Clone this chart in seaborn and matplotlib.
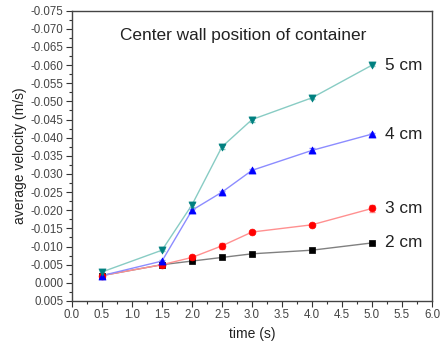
import numpy as np
import pandas as pd
import matplotlib
matplotlib.use("Agg")
import matplotlib.pyplot as plt
from matplotlib.ticker import MultipleLocator, FormatStrFormatter
import seaborn as sns

sns.set_style("ticks")
plt.rcParams["font.family"] = ["Liberation Sans", "DejaVu Sans"]

# time points (s)
time_s = [0.5, 1.5, 2.0, 2.5, 3.0, 4.0, 5.0]

# average velocity (m/s) for each wall distance
v_2cm = [-0.002, -0.005, -0.006, -0.007, -0.008, -0.009, -0.011]
v_3cm = [-0.002, -0.005, -0.007, -0.0102, -0.014, -0.016, -0.0205]
v_4cm = [-0.002, -0.006, -0.020, -0.025, -0.031, -0.0365, -0.041]
v_5cm = [-0.003, -0.009, -0.0215, -0.0375, -0.045, -0.051, -0.060]

# standard deviations
e_2cm = [0.0002, 0.0002, 0.0002, 0.0002, 0.0002, 0.0002, 0.0002]
e_3cm = [0.0002, 0.0004, 0.0004, 0.0008, 0.0003, 0.0003, 0.0010]
e_4cm = [0.0002, 0.0003, 0.0004, 0.0003, 0.0003, 0.0006, 0.0003]
e_5cm = [0.0004, 0.0003, 0.0006, 0.0005, 0.0006, 0.0004, 0.0003]

labels = ["2 cm", "3 cm", "4 cm", "5 cm"]

series = [
    ("2 cm", v_2cm, e_2cm, "s", 16, "#000000", "#808080"),
    ("3 cm", v_3cm, e_3cm, "o", 24, "#ff0000", "#ff9090"),
    ("4 cm", v_4cm, e_4cm, "^", 26, "#0000ff", "#8c8cff"),
    ("5 cm", v_5cm, e_5cm, "v", 26, "#008080", "#88ccc4"),
]

fig = plt.figure(figsize=(4.4, 3.51), dpi=100)
ax = fig.add_axes([0.1636, 0.1425, 0.8182, 0.827])

for name, v, e, mk, sz, mcol, lcol in series:
    df = pd.DataFrame({"time": time_s, "velocity": v, "err": e})
    sns.lineplot(data=df, x="time", y="velocity", color=lcol, lw=1.0, ax=ax, zorder=2)
    ax.errorbar(df["time"], df["velocity"], yerr=df["err"], fmt="none",
                ecolor=lcol, elinewidth=1.0, capsize=2, capthick=1.0, zorder=3)
    sns.scatterplot(data=df, x="time", y="velocity", marker=mk, color=mcol,
                    s=sz, edgecolor=mcol, linewidth=0.5, ax=ax, zorder=4)
    ax.text(5.22, v[-1], name, fontsize=12.4, va="center", ha="left", color="#222222")

ax.set_xlim(0.0, 6.0)
ax.set_ylim(0.005, -0.075)
ax.xaxis.set_major_locator(MultipleLocator(0.5))
ax.xaxis.set_minor_locator(MultipleLocator(0.25))
ax.yaxis.set_major_locator(MultipleLocator(0.005))
ax.yaxis.set_minor_locator(MultipleLocator(0.0025))
ax.xaxis.set_major_formatter(FormatStrFormatter("%.1f"))
ax.yaxis.set_major_formatter(FormatStrFormatter("%.3f"))
ax.tick_params(which="major", direction="out", length=4, width=0.8,
               labelsize=8.3, colors="#333333", labelcolor="#444444", pad=2)
ax.tick_params(which="minor", direction="out", length=2, width=0.8, colors="#333333")

for sp in ax.spines.values():
    sp.set_color("#444444")
    sp.set_linewidth(1.0)

ax.set_xlabel("time (s)", fontsize=10, color="#222222", labelpad=4)
ax.set_ylabel("average velocity (m/s)", fontsize=10, color="#222222", labelpad=3)
ax.text(0.133, 0.915, "Center wall position of container", transform=ax.transAxes,
        fontsize=12.4, color="#222222", ha="left", va="center")

fig.savefig("out.png", dpi=100)
